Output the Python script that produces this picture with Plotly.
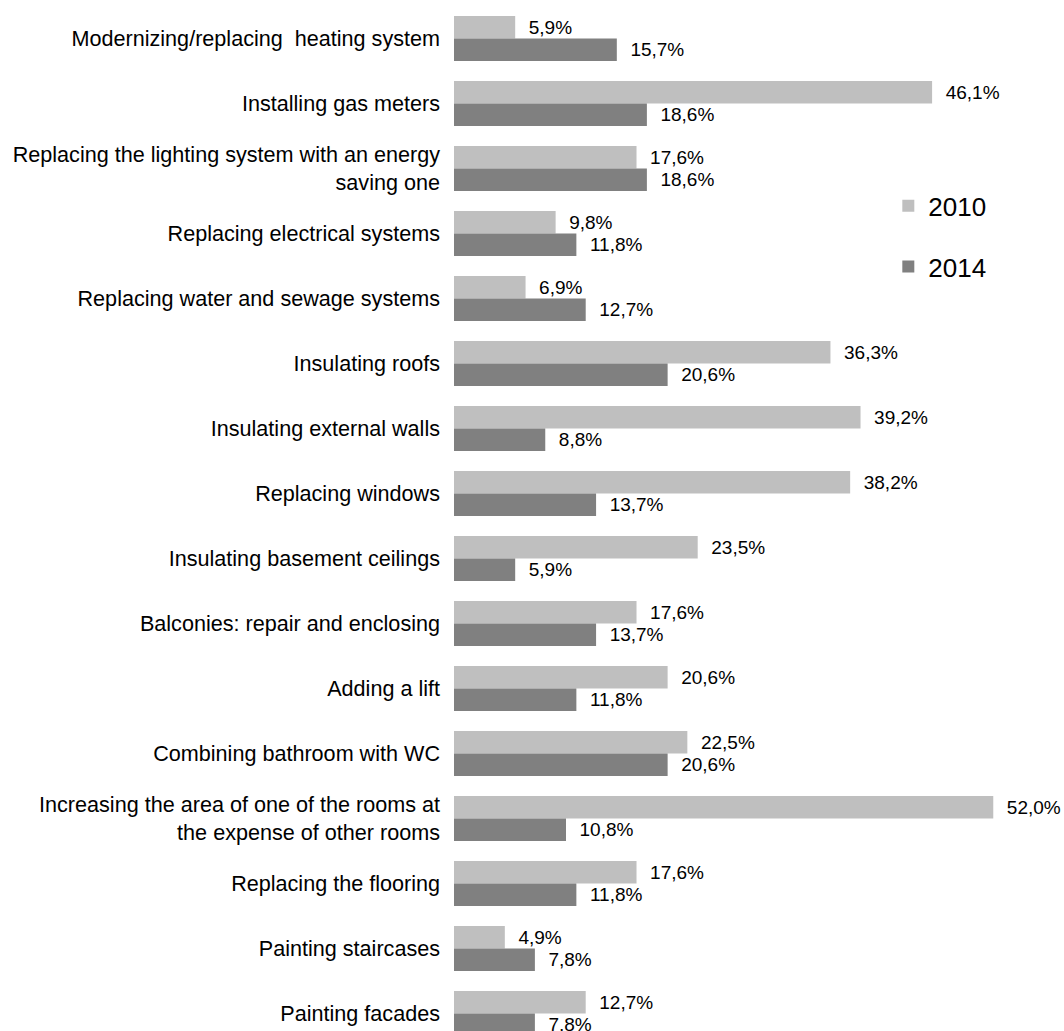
import plotly.graph_objects as go

categories = [
    "Modernizing/replacing  heating system",
    "Installing gas meters",
    "Replacing the lighting system with an energy<br>saving one",
    "Replacing electrical systems",
    "Replacing water and sewage systems",
    "Insulating roofs",
    "Insulating external walls",
    "Replacing windows",
    "Insulating basement ceilings",
    "Balconies: repair and enclosing",
    "Adding a lift",
    "Combining bathroom with WC",
    "Increasing the area of one of the rooms at<br>the expense of other rooms",
    "Replacing the flooring",
    "Painting staircases",
    "Painting facades",
]
values_2010 = [5.9, 46.1, 17.6, 9.8, 6.9, 36.3, 39.2, 38.2, 23.5, 17.6, 20.6, 22.5, 52.0, 17.6, 4.9, 12.7]
values_2014 = [15.7, 18.6, 18.6, 11.8, 12.7, 20.6, 8.8, 13.7, 5.9, 13.7, 11.8, 20.6, 10.8, 11.8, 7.8, 7.8]
series_names = ["2010", "2014"]
series_colors = ["#bfbfbf", "#808080"]

FONT = "Liberation Sans, Arial, sans-serif"

fig = go.Figure()
for name, vals, col in zip(series_names, [values_2010, values_2014], series_colors):
    fig.add_trace(go.Bar(
        y=categories, x=vals, name=name, orientation="h",
        marker=dict(color=col, line=dict(width=0)),
        texttemplate="\u00a0\u00a0%{x:.1f}%", textposition="outside",
        constraintext="none", cliponaxis=False,
        textfont=dict(family=FONT, size=19, color="#000000"),
        legendgroup=name,
    ))

fig.update_layout(
    width=1064, height=1031,
    margin=dict(l=454, r=0, t=6, b=0),
    paper_bgcolor="white", plot_bgcolor="white",
    barmode="group", bargap=0.308, bargroupgap=0,
    separators=", ",
    font=dict(family=FONT, size=19, color="#000000"),
    xaxis=dict(range=[0, 58.82], showgrid=False, showticklabels=False,
               zeroline=False, showline=False, ticks=""),
    yaxis=dict(categoryorder="array", categoryarray=categories,
               range=[15.27, -0.5], showgrid=False, zeroline=False,
               showline=False, ticks="", ticklabelstandoff=13,
               tickfont=dict(family=FONT, size=21.6, color="#000000")),
    legend=dict(x=0.712, y=0.828, xanchor="left", yanchor="top",
                traceorder="grouped", tracegroupgap=24,
                font=dict(family=FONT, size=26, color="#000000"),
                bgcolor="rgba(0,0,0,0)", itemwidth=30),
    showlegend=True,
)

fig.write_html("out.html")
